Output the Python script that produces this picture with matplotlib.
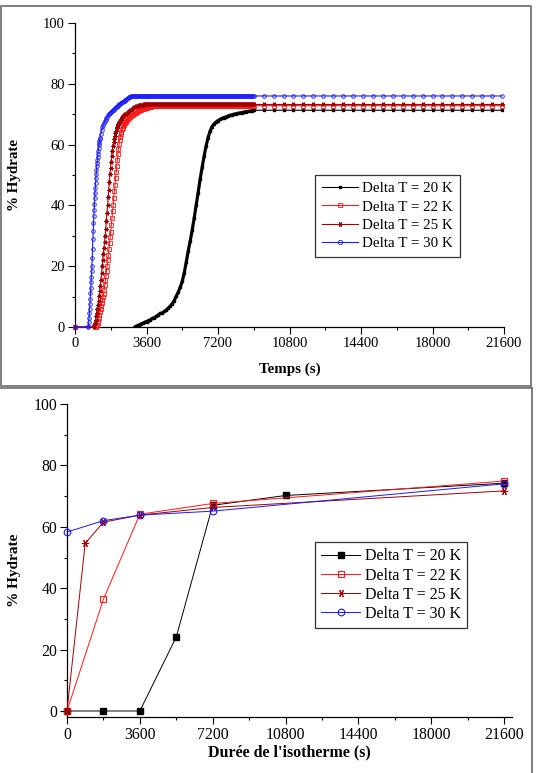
import numpy as np
import matplotlib
matplotlib.use('Agg')
import matplotlib.pyplot as plt
from matplotlib.lines import Line2D
from matplotlib.patches import Rectangle
from matplotlib.ticker import MultipleLocator

plt.rcParams['font.family'] = 'serif'
plt.rcParams['font.serif'] = ['Liberation Serif', 'DejaVu Serif']

labels = ['Delta T = 20 K', 'Delta T = 22 K', 'Delta T = 25 K', 'Delta T = 30 K']
colors = ['#000000', '#ff1a1a', '#a00000', '#1a1aff']
xticks = [0, 3600, 7200, 10800, 14400, 18000, 21600]

# ---- top panel : continuous runs ----
t_sparse = np.arange(9000, 22000, 500)

# Delta T = 30 K
t30_rise = np.arange(660, 1260, 15)
v30_rise = [0, 0.4, 1.6, 3.0, 4.5, 6.0, 7.6, 9.3, 11.1, 12.9,
            14.7, 16.5, 18.3, 20.2, 22.8, 25.8, 28.9, 31.7, 34.1, 36.4,
            38.6, 40.6, 42.4, 44.1, 45.8, 47.4, 48.9, 50.3, 51.6, 52.8,
            53.9, 55.0, 56.0, 57.0, 58.0, 59.0, 59.9, 60.6, 61.2, 61.8]
t30_bend = np.arange(1260, 2900, 40)
v30_bend = [62.3, 63.6, 64.8, 65.7, 66.5, 67.1, 67.6, 68.1, 68.6, 69.1,
            69.6, 70.0, 70.3, 70.5, 70.8, 71.0, 71.3, 71.5, 71.8, 72.0,
            72.3, 72.5, 72.8, 73.0, 73.2, 73.4, 73.6, 73.8, 73.9, 74.1,
            74.3, 74.5, 74.7, 74.9, 75.1, 75.3, 75.5, 75.7, 75.8, 76.0, 76.0]
p30 = 76.0

# Delta T = 25 K
t25_rise = np.arange(950, 2520, 30)
v25_rise = [0, 0.6, 1.4, 2.4, 3.5, 4.7, 6.0, 7.3, 8.7, 10.1,
            11.8, 13.6, 15.6, 17.8, 20.0, 22.0, 24.0, 26.0, 28.0, 30.0,
            32.4, 34.9, 37.4, 40.0, 42.6, 45.2, 47.8, 50.3, 52.4, 54.4,
            56.2, 57.9, 59.5, 60.8, 61.9, 62.9, 63.8, 64.6, 65.3, 65.8,
            66.3, 66.8, 67.2, 67.5, 67.8, 68.1, 68.4, 68.7, 69.0, 69.3,
            69.6, 69.8, 70.0]
t25_bend = np.arange(2550, 3650, 50)
v25_bend = [70.2, 70.5, 70.8, 71.0, 71.3, 71.5, 71.8, 72.0, 72.3, 72.5,
            72.6, 72.7, 72.8, 72.9, 73.0, 73.0, 73.1, 73.1, 73.2, 73.2,
            73.2, 73.2]
p25 = 73.2

# Delta T = 22 K
t22_rise = np.arange(1050, 2640, 30)
v22_rise = [0, 0.3, 0.8, 1.4, 2.1, 2.9, 3.8, 4.8, 5.8, 6.8,
            7.8, 8.8, 9.8, 10.9, 12.3, 13.8, 15.3, 16.9, 18.5, 20.1,
            21.9, 23.8, 25.7, 27.6, 29.5, 31.4, 33.6, 35.8, 38.0, 40.2,
            42.4, 44.6, 46.8, 49.0, 51.0, 53.0, 55.0, 56.8, 58.6, 60.2,
            61.5, 62.6, 63.5, 64.3, 65.0, 65.5, 66.0, 66.4, 66.8, 67.2,
            67.5, 67.8, 68.1]
t22_bend = np.arange(2650, 4350, 50)
v22_bend = [68.4, 68.7, 69.0, 69.3, 69.6, 69.9, 70.1, 70.3, 70.5, 70.7,
            70.9, 71.1, 71.3, 71.4, 71.6, 71.7, 71.8, 71.9, 72.0, 72.1,
            72.2, 72.3, 72.4, 72.5, 72.5, 72.6, 72.6, 72.7, 72.7, 72.7,
            72.8, 72.8, 72.8, 72.8]
p22 = 72.8

# Delta T = 20 K
t20_rise = np.arange(3000, 9100, 100)
v20_rise = [0, 0.3, 0.6, 0.9, 1.2, 1.5, 1.8, 2.1, 2.4, 2.8,
            3.1, 3.5, 4.0, 4.5, 4.6, 5.1, 5.6, 6.2, 6.9, 7.7,
            8.7, 10.2, 11.5, 13.1, 15.0, 17.8, 21.3, 25.0, 28.3, 31.8,
            35.8, 40.0, 44.2, 48.6, 52.5, 56.2, 59.5, 62.3, 64.4, 65.9,
            66.8, 67.4, 67.9, 68.3, 68.6, 68.9, 69.1, 69.4, 69.6, 69.8,
            70.0, 70.1, 70.3, 70.4, 70.5, 70.7, 70.8, 70.9, 71.0, 71.1, 71.3]
p20 = 71.3

# ---- bottom panel : isotherm duration ----
iso_t20 = [0, 1800, 3600, 5400, 7200, 10800, 21600]
iso_v20 = [0, 0, 0, 24.1, 67.0, 70.2, 74.2]
iso_t22 = [0, 1800, 3600, 7200, 21600]
iso_v22 = [0, 36.4, 64.1, 67.6, 74.9]
iso_t25 = [0, 900, 1800, 3600, 7200, 21600]
iso_v25 = [0, 54.6, 61.5, 63.8, 66.3, 71.7]
iso_t30 = [0, 1800, 3600, 7200, 21600]
iso_v30 = [58.3, 62.0, 63.8, 65.1, 74.0]


def series(parts, level, t_start):
    t = [0]
    v = [0]
    for tp, vp in parts:
        t = np.concatenate([t, tp])
        v = np.concatenate([v, vp])
    tp = np.arange(t_start, 9000, 50)
    t = np.concatenate([t, tp, t_sparse])
    v = np.concatenate([v, np.full(len(tp) + len(t_sparse), level)])
    return t, v


W, H = 537, 773
fig = plt.figure(figsize=(W / 100, H / 100), dpi=100)

# panel frames
fig.add_artist(Rectangle((0.7 / W, 1 - 386 / H), 530 / W, 380.5 / H, transform=fig.transFigure,
                         fill=False, ec='#6a6a6a', lw=1.2))
fig.add_artist(Line2D([0, 532 / W], [1 - 388 / H] * 2, transform=fig.transFigure, color='#6a6a6a', lw=1.2))
fig.add_artist(Line2D([532 / W] * 2, [1 - 388 / H, 0], transform=fig.transFigure, color='#6a6a6a', lw=1.2))


def style(ax, fs):
    for s in ['top', 'right']:
        ax.spines[s].set_visible(False)
    for s in ['left', 'bottom']:
        ax.spines[s].set_linewidth(0.9)
    ax.xaxis.set_major_locator(MultipleLocator(3600))
    ax.xaxis.set_minor_locator(MultipleLocator(1800))
    ax.yaxis.set_major_locator(MultipleLocator(20))
    ax.yaxis.set_minor_locator(MultipleLocator(10))
    ax.tick_params(which='major', direction='out', length=4.7, width=0.8, labelsize=fs, pad=2.5)
    ax.tick_params(which='minor', direction='out', length=2.5, width=0.8)
    ax.set_xticks(xticks)


# ---------------- top ----------------
ax1 = fig.add_axes([75 / W, 1 - 327 / H, 429 / W, 304 / H])
style(ax1, 10.5)
ax1.set_xlim(0, 21600)
ax1.set_ylim(0, 100)

t20 = np.concatenate([t20_rise, t_sparse[1:]])
v20 = np.concatenate([v20_rise, np.full(len(t_sparse) - 1, p20)])
t22, v22 = series([(t22_rise, v22_rise), (t22_bend, v22_bend)], p22, 4350)
t25, v25 = series([(t25_rise, v25_rise), (t25_bend, v25_bend)], p25, 3650)
t30, v30 = series([(t30_rise, v30_rise), (t30_bend, v30_bend)], p30, 2900)

ax1.plot(t20_rise, v20_rise, color=colors[0], lw=2.3, solid_capstyle='round', zorder=2)
h20, = ax1.plot(t20, v20, color=colors[0], lw=0.8, marker='s', ms=1.6, mfc=colors[0], mec=colors[0],
                label=labels[0], zorder=3)
h22, = ax1.plot(t22, v22, color=colors[1], lw=0.8, marker='s', ms=2.4, mfc='none', mec=colors[1],
                mew=0.6, label=labels[1], zorder=3, clip_on=False)
h25, = ax1.plot(t25, v25, color=colors[2], lw=0.8, marker=(6, 2, 90), ms=3.0, mec=colors[2],
                mew=0.7, label=labels[2], zorder=4, clip_on=False)
h30, = ax1.plot(t30, v30, color=colors[3], lw=0.8, marker='o', ms=2.6, mfc='none', mec=colors[3],
                mew=0.6, label=labels[3], zorder=5, clip_on=False)

ax1.set_xlabel('Temps (s)', fontsize=10.8, fontweight='bold', va='center')
ax1.xaxis.set_label_coords(0.5, (327 - 369) / 304)
ax1.set_ylabel('% Hydrate', fontsize=10.8, fontweight='bold', va='center')
ax1.yaxis.set_label_coords((15 - 75) / 429, 0.5)

leg1 = ax1.legend(handles=[h20, h22, h25, h30], loc='upper left',
                  bbox_to_anchor=(315 / W, 1 - 175 / H), bbox_transform=fig.transFigure,
                  borderaxespad=0, fancybox=False, framealpha=1, edgecolor='#333333',
                  fontsize=10.8, handlelength=2.4, handletextpad=0.3, borderpad=0.45,
                  labelspacing=0.32, markerscale=1.2)
leg1.get_frame().set_linewidth(0.9)

# ---------------- bottom ----------------
ax2 = fig.add_axes([67 / W, 1 - 717.14 / H, 445.1 / W, 313.14 / H])
style(ax2, 11.3)
ax2.set_xlim(0, 22000)
ax2.set_ylim(-2, 100)
ax2.spines['left'].set_bounds(-2, 100)

ax2.plot(iso_t20, iso_v20, color=colors[0], lw=0.7, marker='s', ms=4.4, mfc=colors[0], mec=colors[0],
         label=labels[0], clip_on=False, zorder=3)
ax2.plot(iso_t22, iso_v22, color=colors[1], lw=0.7, marker='s', ms=4.4, mfc='none', mec=colors[1],
         mew=0.8, label=labels[1], clip_on=False, zorder=4)
ax2.plot(iso_t25, iso_v25, color=colors[2], lw=0.7, marker=(6, 2, 90), ms=5.2, mec=colors[2],
         mew=0.8, label=labels[2], clip_on=False, zorder=5)
ax2.plot(iso_t30, iso_v30, color=colors[3], lw=0.7, marker='o', ms=4.8, mfc='none', mec=colors[3],
         mew=0.8, label=labels[3], clip_on=False, zorder=6)

ax2.set_xlabel("Durée de l'isotherme (s)", fontsize=11.5, fontweight='bold', va='center')
ax2.xaxis.set_label_coords(0.5, (717.14 - 752) / 313.14)
ax2.set_ylabel('% Hydrate', fontsize=11.0, fontweight='bold', va='center')
ax2.yaxis.set_label_coords((15 - 67) / 445.1, 0.47)

leg2 = ax2.legend(loc='upper left', bbox_to_anchor=(315 / W, 1 - 542 / H), bbox_transform=fig.transFigure,
                  borderaxespad=0, fancybox=False, framealpha=1, edgecolor='#333333',
                  fontsize=11.5, handlelength=2.4, handletextpad=0.3, borderpad=0.4,
                  labelspacing=0.2)
leg2.get_frame().set_linewidth(0.9)

fig.savefig('out.png', dpi=100)
